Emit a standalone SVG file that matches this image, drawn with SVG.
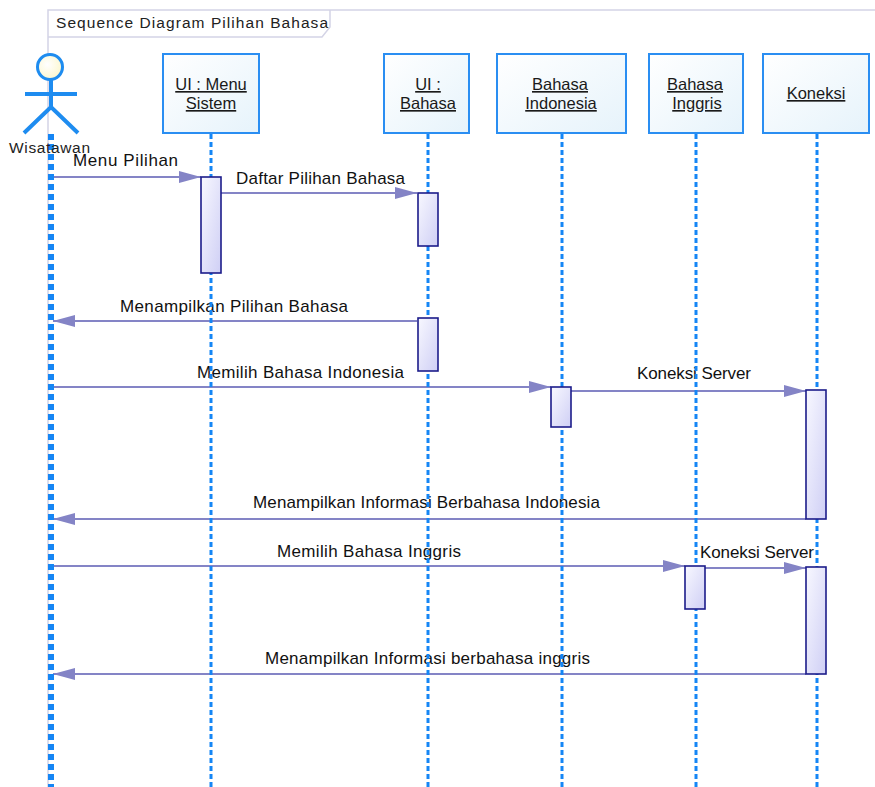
<svg xmlns="http://www.w3.org/2000/svg" width="875" height="787" viewBox="0 0 875 787">
<style>
  .frame{fill:none;stroke:#d4d4e6;stroke-width:1.5}
  .hdr{stroke:#2a8ef2;stroke-width:2;fill:url(#hdrGrad)}
  .life{stroke:#1586f5;stroke-width:3;stroke-dasharray:5 3;fill:none}
  .alife{stroke:#1586f5;stroke-width:6;stroke-dasharray:6 4;fill:none}
  .act{stroke:#1c1c8a;stroke-width:1.6;fill:url(#actGrad)}
  .msg{stroke:#8484c6;stroke-width:2;fill:none;marker-end:url(#arr)}
  .lbl{font-family:"Liberation Sans",Arial,sans-serif;font-size:17px;fill:#111}
  .nlbl{font-family:"Liberation Sans",Arial,sans-serif;font-size:16.5px;fill:#1a1a1a;text-decoration:underline;text-anchor:middle}
  .ttl{font-family:"Liberation Sans",Arial,sans-serif;font-size:15.5px;fill:#222}
  .actor{stroke:#1e8cf0;stroke-width:4;fill:none;stroke-linecap:butt}
</style>
<defs>
  <linearGradient id="hdrGrad" x1="0" y1="0" x2="1" y2="1">
    <stop offset="0" stop-color="#ffffff"/>
    <stop offset="1" stop-color="#e6f3fb"/>
  </linearGradient>
  <linearGradient id="actGrad" x1="0" y1="0" x2="1" y2="1">
    <stop offset="0" stop-color="#f8f8ff"/>
    <stop offset="1" stop-color="#cfcff5"/>
  </linearGradient>
  <radialGradient id="headGrad" cx="0.4" cy="0.4" r="0.7">
    <stop offset="0" stop-color="#ffffff"/>
    <stop offset="1" stop-color="#fbf6c8"/>
  </radialGradient>
  <marker id="arr" viewBox="0 0 22 12" refX="22" refY="6" markerWidth="22" markerHeight="12" orient="auto" markerUnits="userSpaceOnUse">
    <path d="M0,0 L22,6 L0,12 Z" fill="#8484c6"/>
  </marker>
</defs>
<rect width="875" height="787" fill="#ffffff"/>

<g id="frame">
  <path class="frame" d="M875,10 L48,10 L48,787"/>
  <path class="frame" d="M48,37 L322,37 L330,27 L330,10"/>
  <text class="ttl" x="56" y="28" textLength="272" lengthAdjust="spacing">Sequence Diagram Pilihan Bahasa</text>
</g>

<g id="connectors">
  <line class="msg" x1="53" y1="177" x2="201" y2="177"/>
  <text class="lbl" x="73" y="166" textLength="105" lengthAdjust="spacing">Menu Pilihan</text>
  <line class="msg" x1="221" y1="193" x2="417" y2="193"/>
  <text class="lbl" x="236" y="184" textLength="169" lengthAdjust="spacing">Daftar Pilihan Bahasa</text>
  <line class="msg" x1="417" y1="321" x2="53" y2="321"/>
  <text class="lbl" x="120" y="312" textLength="228" lengthAdjust="spacing">Menampilkan Pilihan Bahasa</text>
  <line class="msg" x1="53" y1="387" x2="551" y2="387"/>
  <text class="lbl" x="197" y="378" textLength="207" lengthAdjust="spacing">Memilih Bahasa Indonesia</text>
  <line class="msg" x1="571" y1="391" x2="806" y2="391"/>
  <text class="lbl" x="637" y="379" textLength="114" lengthAdjust="spacing">Koneksi Server</text>
  <line class="msg" x1="806" y1="519" x2="53" y2="519"/>
  <text class="lbl" x="253" y="508" textLength="347" lengthAdjust="spacing">Menampilkan Informasi Berbahasa Indonesia</text>
  <line class="msg" x1="53" y1="566" x2="685" y2="566"/>
  <text class="lbl" x="277" y="557" textLength="184" lengthAdjust="spacing">Memilih Bahasa Inggris</text>
  <line class="msg" x1="705" y1="568" x2="806" y2="568"/>
  <text class="lbl" x="700" y="558" textLength="114" lengthAdjust="spacing">Koneksi Server</text>
  <line class="msg" x1="806" y1="674" x2="53" y2="674"/>
  <text class="lbl" x="265" y="664" textLength="325" lengthAdjust="spacing">Menampilkan Informasi berbahasa inggris</text>
</g>

<g id="wisatawan">
  <line class="alife" x1="51" y1="134" x2="51" y2="787"/>
  <circle cx="50" cy="67" r="12.5" fill="url(#headGrad)" stroke="#1e8cf0" stroke-width="3"/>
  <line class="actor" x1="51" y1="80" x2="51" y2="107"/>
  <line class="actor" x1="25" y1="94" x2="77" y2="94"/>
  <path class="actor" d="M24,133 L51,107 L78,133"/>
  <text class="ttl" x="9" y="153" textLength="81" lengthAdjust="spacing">Wisatawan</text>
</g>

<g id="ui-menu-sistem">
  <rect class="hdr" x="163" y="54" width="96" height="79"/>
  <text class="nlbl" x="211" y="90">UI : Menu</text>
  <text class="nlbl" x="211" y="109">Sistem</text>
  <line class="life" x1="211" y1="134" x2="211" y2="787"/>
  <rect class="act" x="201" y="177" width="20" height="96"/>
</g>

<g id="ui-bahasa">
  <rect class="hdr" x="384" y="54" width="85" height="79"/>
  <text class="nlbl" x="428" y="90">UI :</text>
  <text class="nlbl" x="428" y="109">Bahasa</text>
  <line class="life" x1="428" y1="134" x2="428" y2="787"/>
  <rect class="act" x="418" y="193" width="20" height="53"/>
  <rect class="act" x="418" y="318" width="20" height="53"/>
</g>

<g id="bahasa-indonesia">
  <rect class="hdr" x="497" y="54" width="129" height="79"/>
  <text class="nlbl" x="560" y="90">Bahasa</text>
  <text class="nlbl" x="561" y="109">Indonesia</text>
  <line class="life" x1="562" y1="134" x2="562" y2="787"/>
  <rect class="act" x="551" y="387" width="20" height="40"/>
</g>

<g id="bahasa-inggris">
  <rect class="hdr" x="649" y="54" width="94" height="79"/>
  <text class="nlbl" x="695" y="90">Bahasa</text>
  <text class="nlbl" x="697" y="109">Inggris</text>
  <line class="life" x1="696" y1="134" x2="696" y2="787"/>
  <rect class="act" x="685" y="566" width="20" height="43"/>
</g>

<g id="koneksi">
  <rect class="hdr" x="763" y="54" width="106" height="79"/>
  <text class="nlbl" x="816" y="99">Koneksi</text>
  <line class="life" x1="817" y1="134" x2="817" y2="787"/>
  <rect class="act" x="806" y="390" width="20" height="129"/>
  <rect class="act" x="806" y="567" width="20" height="107"/>
</g>
</svg>
